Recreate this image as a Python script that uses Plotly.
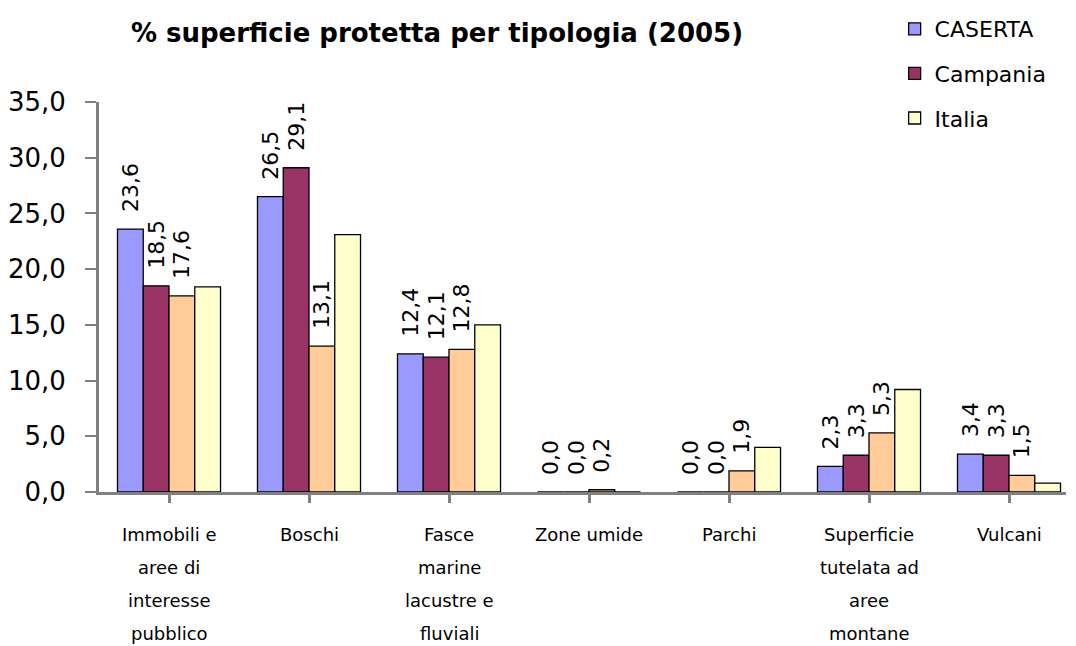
import plotly.graph_objects as go

categories = [
    "Immobili e<br>aree di<br>interesse<br>pubblico",
    "Boschi",
    "Fasce<br>marine<br>lacustre e<br>fluviali",
    "Zone umide",
    "Parchi",
    "Superficie<br>tutelata ad<br>aree<br>montane",
    "Vulcani",
]
caserta = [23.6, 26.5, 12.4, 0.0, 0.0, 2.3, 3.4]
campania = [18.5, 29.1, 12.1, 0.0, 0.0, 3.3, 3.3]
terzo = [17.6, 13.1, 12.8, 0.2, 1.9, 5.3, 1.5]
italia = [18.4, 23.1, 15.0, 0.0, 4.0, 9.2, 0.8]
y_ticks = [0, 5, 10, 15, 20, 25, 30, 35]

xs = list(range(len(categories)))
FONT = "DejaVu Sans, Liberation Sans, sans-serif"

fig = go.Figure()

def add(name, vals, color, labels, show):
    fig.add_trace(go.Bar(
        x=xs, y=vals, name=name, showlegend=show, legendgroup=name,
        marker=dict(color=color, line=dict(color="black", width=1.3)),
        text=vals if labels else None,
        texttemplate="&nbsp;&nbsp;%{y:.1f}" if labels else None,
        textposition="outside" if labels else "none",
        textangle=-90, constraintext="none", cliponaxis=False,
        textfont=dict(family=FONT, size=22, color="black"),
    ))

add("CASERTA", caserta, "#9999FF", True, True)
add("Campania", campania, "#993366", True, True)
add("Sud", terzo, "#FFCC99", True, False)
add("Italia", italia, "#FFFFCC", False, True)

for i, cat in enumerate(categories):
    for j, line in enumerate(cat.split("<br>")):
        fig.add_annotation(
            x=i, xref="x", y=0, yref="paper", yanchor="middle",
            yshift=-(42 + 33 * j), text=line, showarrow=False,
            font=dict(family=FONT, size=18, color="black"),
        )

fig.update_layout(
    width=1076, height=646,
    margin=dict(l=91, r=18, t=94, b=162, autoexpand=False),
    plot_bgcolor="white", paper_bgcolor="white",
    barmode="group", bargap=0.264, bargroupgap=0,
    separators=",.",
    title=dict(text="<b>% superficie protetta per tipologia (2005)</b>",
               x=429 / 1076, xanchor="center", xref="container",
               y=1 - 25 / 646, yanchor="middle", yref="container",
               font=dict(family=FONT, size=26, color="black")),
    legend=dict(x=0.824, xanchor="left", xref="container",
                y=1.0, yanchor="top", yref="container",
                traceorder="grouped", tracegroupgap=13,
                font=dict(family=FONT, size=22, color="black"),
                bgcolor="rgba(0,0,0,0)"),
    xaxis=dict(range=[-0.5, -0.5 + 967 / 140], showticklabels=False,
               tickmode="array", tickvals=xs, tickson="boundaries",
               ticks="outside", ticklen=8, tickwidth=3, tickcolor="#808080",
               showline=True, linecolor="#808080", linewidth=3,
               showgrid=False, zeroline=False, fixedrange=True),
    yaxis=dict(range=[0, 35], tickmode="array", tickvals=y_ticks,
               tickformat=".1f", ticks="outside", ticklen=11, tickwidth=2,
               tickcolor="#808080", ticklabelstandoff=14,
               showline=True, linecolor="#808080", linewidth=3,
               showgrid=False, zeroline=False,
               tickfont=dict(family=FONT, size=26, color="black")),
)

fig.write_html("out.html")
